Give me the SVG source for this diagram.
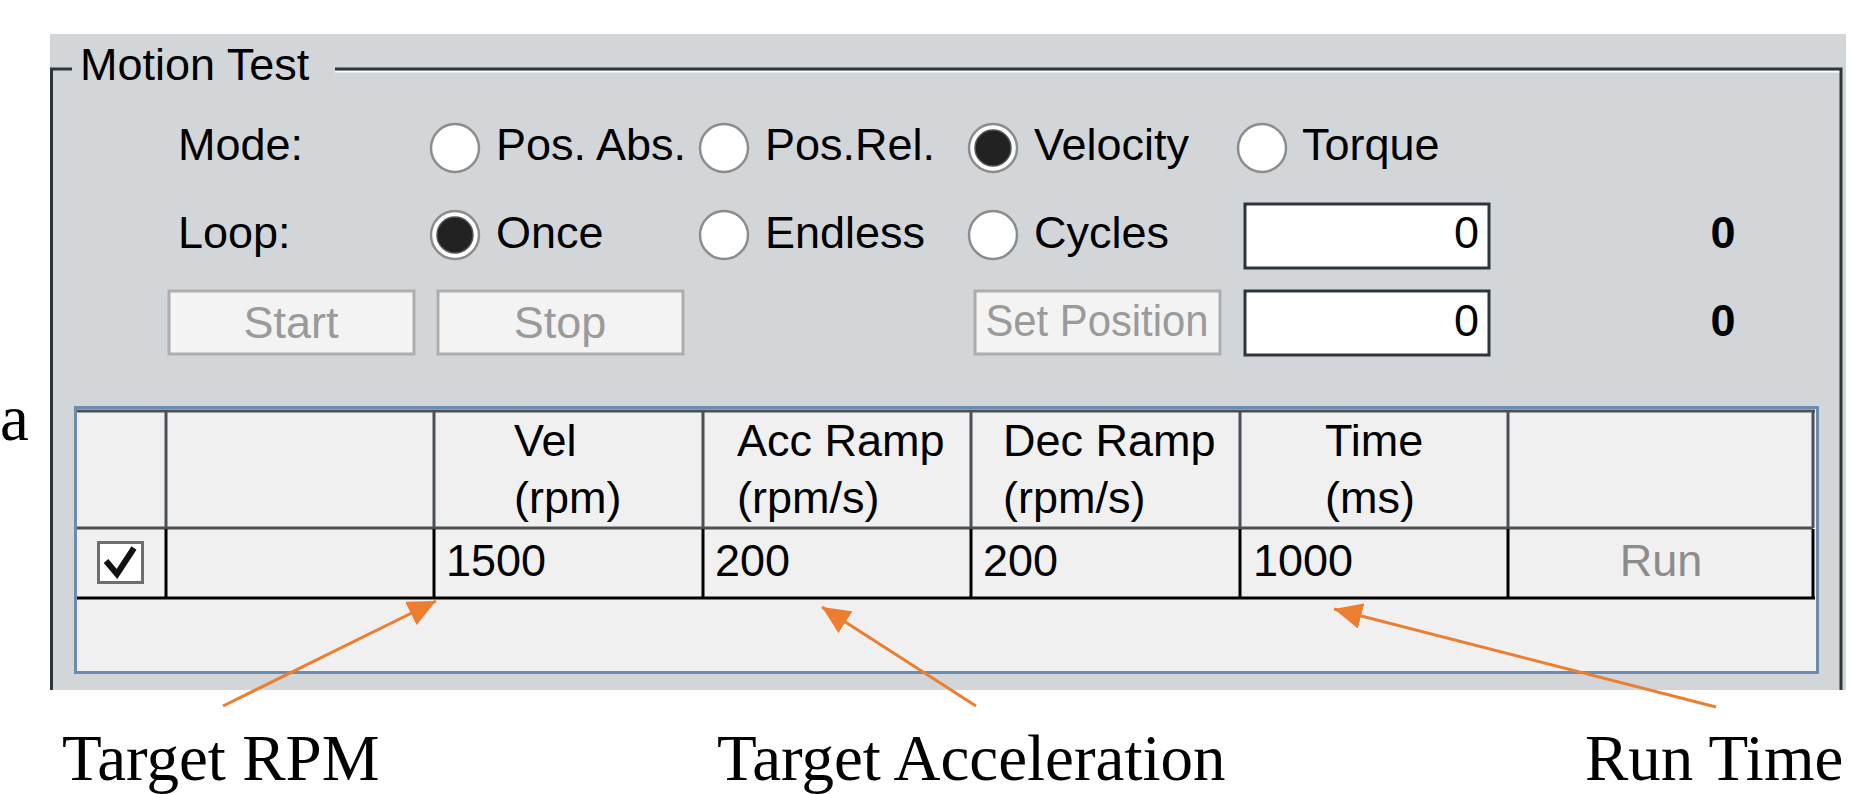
<svg xmlns="http://www.w3.org/2000/svg" width="1856" height="794" viewBox="0 0 1856 794">
<style>
.ui{font-family:"Liberation Sans",Arial,sans-serif;font-size:45px;fill:#000}
.dis{fill:#9a9a9a}
.run{fill:#8c8c8c}
.bold{font-weight:bold}
.cap{font-family:"Liberation Serif","Times New Roman",serif;font-size:65px;fill:#000}
.rad{fill:#fff;stroke:#8c8c8c;stroke-width:2.5}
.dot{fill:#222;stroke:#555;stroke-width:1.5}
.btn{fill:#f3f3f3;stroke:#adadad;stroke-width:3}
.tb{fill:#fff;stroke:#2e343a;stroke-width:3}
.frame{stroke:#2e353b;stroke-width:3;fill:none}
.hl{stroke:#4a5056;stroke-width:3}
.dl{stroke:#000;stroke-width:3}
.arr{stroke:#ED7D31;stroke-width:3;fill:none;marker-end:url(#ah)}
</style>
<defs>
<marker id="ah" viewBox="0 0 28 26" refX="28" refY="13" markerWidth="28" markerHeight="26" orient="auto" markerUnits="userSpaceOnUse">
<path d="M0,0 L28,13 L0,26 z" fill="#ED7D31"/>
</marker>
</defs>
<rect width="1856" height="794" fill="#fff"/>
<g id="panel">
<rect x="50" y="34" width="1796" height="656" fill="#d3d6d9"/>
<line x1="335" y1="71.5" x2="1841" y2="71.5" stroke="#fff" stroke-width="2"/>
<path class="frame" d="M72,69 L51.5,69 L51.5,690 M335,69 L1841,69 L1841,690"/>
<text class="ui" x="80" y="80">Motion Test</text>
</g>
<g id="mode">
<text class="ui" x="178" y="160">Mode:</text>
<circle class="rad" cx="455" cy="148" r="24"/><text class="ui" x="496" y="160">Pos. Abs.</text>
<circle class="rad" cx="724" cy="148" r="24"/><text class="ui" x="765" y="160">Pos.Rel.</text>
<circle class="rad" cx="993" cy="148" r="24"/><circle class="dot" cx="993" cy="148" r="18"/><text class="ui" x="1034" y="160">Velocity</text>
<circle class="rad" cx="1262" cy="148" r="24"/><text class="ui" x="1302" y="160">Torque</text>
</g>
<g id="loop">
<text class="ui" x="178" y="248">Loop:</text>
<circle class="rad" cx="455" cy="235" r="24"/><circle class="dot" cx="455" cy="235" r="18"/><text class="ui" x="496" y="248">Once</text>
<circle class="rad" cx="724" cy="235" r="24"/><text class="ui" x="765" y="248">Endless</text>
<circle class="rad" cx="993" cy="235" r="24"/><text class="ui" x="1034" y="248">Cycles</text>
<rect class="tb" x="1245" y="204" width="244" height="64"/>
<text class="ui" x="1479" y="248" text-anchor="end">0</text>
<text class="ui bold" x="1723" y="248" text-anchor="middle">0</text>
</g>
<g id="buttons">
<rect class="btn" x="169" y="291" width="245" height="63"/>
<text class="ui dis" x="291" y="338" text-anchor="middle">Start</text>
<rect class="btn" x="438" y="291" width="245" height="63"/>
<text class="ui dis" x="560" y="338" text-anchor="middle">Stop</text>
<rect class="btn" x="975" y="291" width="245" height="63"/>
<text class="ui dis" x="1097" y="336" text-anchor="middle" textLength="223" lengthAdjust="spacingAndGlyphs">Set Position</text>
<rect class="tb" x="1245" y="291" width="244" height="64"/>
<text class="ui" x="1479" y="336" text-anchor="end">0</text>
<text class="ui bold" x="1723" y="336" text-anchor="middle">0</text>
</g>
<g id="table">
<rect x="75.5" y="407.5" width="1742" height="265" fill="#f0f0f0" stroke="#6b8cac" stroke-width="3"/>
<line class="hl" x1="77" y1="411" x2="1815" y2="411"/>
<line class="hl" x1="77" y1="528" x2="1813" y2="528"/>
<g class="hl">
<line x1="166" y1="411" x2="166" y2="528"/><line x1="434" y1="411" x2="434" y2="528"/>
<line x1="703" y1="411" x2="703" y2="528"/><line x1="971" y1="411" x2="971" y2="528"/>
<line x1="1240" y1="411" x2="1240" y2="528"/><line x1="1508" y1="411" x2="1508" y2="528"/>
<line x1="1813" y1="411" x2="1813" y2="528"/>
</g>
<g class="dl">
<line x1="166" y1="529" x2="166" y2="598"/><line x1="434" y1="529" x2="434" y2="598"/>
<line x1="703" y1="529" x2="703" y2="598"/><line x1="971" y1="529" x2="971" y2="598"/>
<line x1="1240" y1="529" x2="1240" y2="598"/><line x1="1508" y1="529" x2="1508" y2="598"/>
<line x1="1813" y1="529" x2="1813" y2="598"/>
<line x1="77" y1="598" x2="1815" y2="598"/>
</g>
<text class="ui" x="514" y="456">Vel</text><text class="ui" x="514" y="513">(rpm)</text>
<text class="ui" x="737" y="456">Acc Ramp</text><text class="ui" x="737" y="513">(rpm/s)</text>
<text class="ui" x="1003" y="456">Dec Ramp</text><text class="ui" x="1003" y="513">(rpm/s)</text>
<text class="ui" x="1325" y="456">Time</text><text class="ui" x="1325" y="513">(ms)</text>
<rect x="98.5" y="542.5" width="44" height="40" fill="#fff" stroke="#6e6e6e" stroke-width="3"/>
<path d="M106,561 L117,574 L134,548" fill="none" stroke="#111" stroke-width="6"/>
<text class="ui" x="446" y="576">1500</text>
<text class="ui" x="715" y="576">200</text>
<text class="ui" x="983" y="576">200</text>
<text class="ui" x="1253" y="576">1000</text>
<text class="ui run" x="1661" y="576" text-anchor="middle">Run</text>
</g>
<g id="labels">
<text class="cap" x="0" y="440" font-size="58">a</text>
<text class="cap" x="62" y="780">Target RPM</text>
<text class="cap" x="717" y="780">Target Acceleration</text>
<text class="cap" x="1585" y="780">Run Time</text>
</g>
<g id="connectors">
<line class="arr" x1="223" y1="706" x2="436" y2="601"/>
<line class="arr" x1="976" y1="706" x2="822" y2="607"/>
<line class="arr" x1="1716" y1="707" x2="1334" y2="609"/>
</g>
</svg>
